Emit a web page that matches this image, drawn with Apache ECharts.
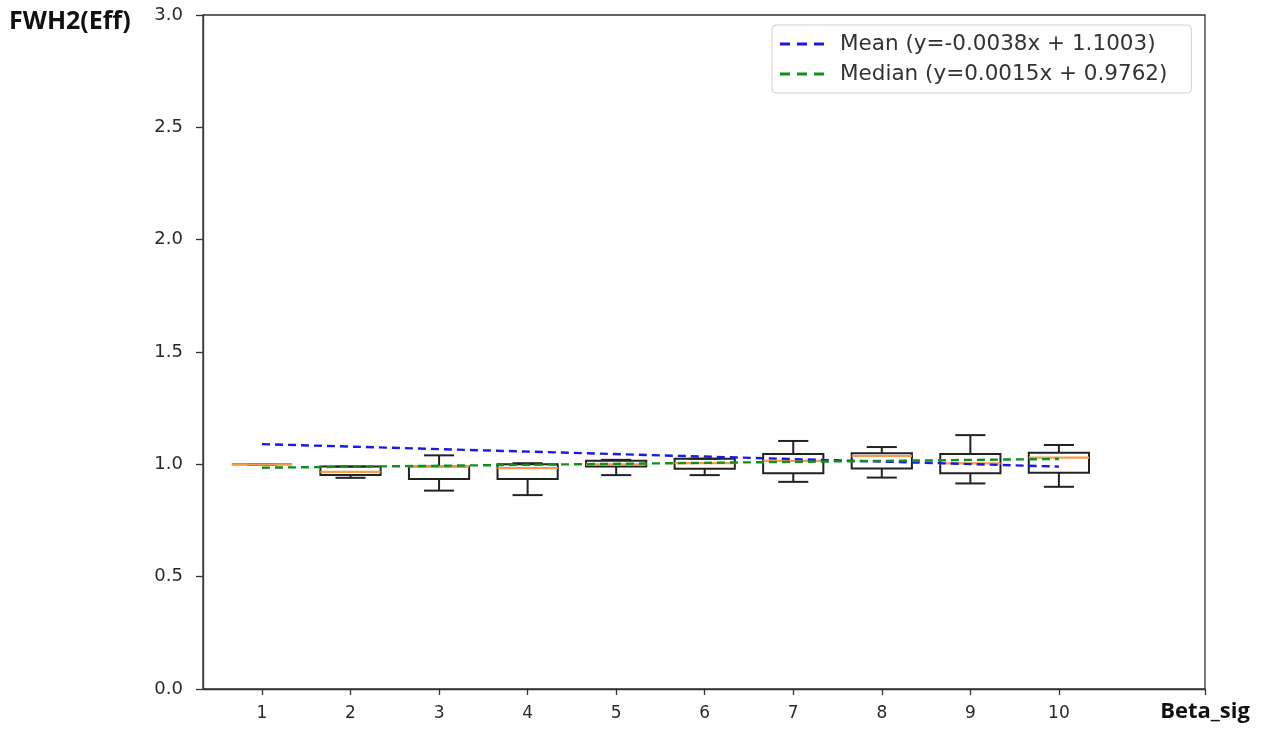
<!DOCTYPE html>
<html>
<head>
<meta charset="utf-8">
<script src="https://cdn.jsdelivr.net/npm/echarts@6/dist/echarts.min.js"></script>
<style>html,body{margin:0;padding:0;background:#fff;}#c{width:1264px;height:729px;}</style>
</head>
<body>
<div id="c"></div>
<script>
// categories (Beta_sig)
const categories = [1, 2, 3, 4, 5, 6, 7, 8, 9, 10];
// box statistics per category
const whiskerLow  = [1.000, 0.940, 0.883, 0.863, 0.952, 0.952, 0.922, 0.941, 0.915, 0.900];
const q1          = [1.000, 0.952, 0.935, 0.935, 0.990, 0.980, 0.960, 0.982, 0.960, 0.963];
const medians     = [1.000, 0.966, 0.990, 0.983, 1.000, 1.005, 1.015, 1.037, 1.004, 1.030];
const q3          = [1.000, 0.990, 0.990, 1.000, 1.016, 1.025, 1.046, 1.049, 1.046, 1.052];
const whiskerHigh = [1.000, 0.990, 1.040, 1.005, 1.020, 1.025, 1.104, 1.077, 1.130, 1.086];
// trend lines (as drawn, endpoints at x=1 and x=10)
const trendX      = [1, 10];
const meanTrend   = [1.090, 0.990];
const medianTrend = [0.985, 1.024];
const meanLabel   = 'Mean (y=-0.0038x + 1.1003)';
const medianLabel = 'Median (y=0.0015x + 0.9762)';
const yAxisTitle  = 'FWH2(Eff)';
const xAxisTitle  = 'Beta_sig';

const xMin = 0.334, xMax = 11.65;
const boxWidth = 0.68;

const boxData = categories.map((c, i) => [c, whiskerLow[i], q1[i], medians[i], q3[i], whiskerHigh[i]]);

const chart = echarts.init(document.getElementById('c'));
const axisColor = '#333';
const dashIcon = 'path://M0,0h10v3h-10z M17,0h10v3h-10z M34,0h10v3h-10z';

chart.setOption({
  animation: false,
  backgroundColor: '#fff',
  title: {
    text: yAxisTitle, left: 9, top: 8, padding: 0,
    textStyle: { fontWeight: 'bold', fontSize: 25, color: '#111', fontFamily: 'Open Sans', lineHeight: 28 }
  },
  grid: { left: 203, right: 59, top: 15, bottom: 40, containLabel: false, outerBoundsMode: 'none', show: true, borderColor: axisColor, borderWidth: 1.3, backgroundColor: 'transparent' },
  xAxis: {
    type: 'value', min: xMin, max: xMax,
    splitLine: { show: false },
    axisLine: { lineStyle: { color: axisColor, width: 1.3 } },
    axisTick: { show: true, length: 6, lineStyle: { color: axisColor, width: 1.3 }, customValues: categories.concat([xMax]) },
    axisLabel: { customValues: categories, color: '#2a2a2a', fontSize: 17, margin: 16, fontFamily: 'DejaVu Sans' },
    name: xAxisTitle, nameLocation: 'end', nameGap: 0,
    nameTextStyle: { fontWeight: 'bold', fontSize: 22, color: '#111', fontFamily: 'Open Sans', verticalAlign: 'top', align: 'center', padding: [12, 0, 0, 0] }
  },
  yAxis: {
    type: 'value', min: 0, max: 3, interval: 0.5,
    splitLine: { show: false },
    axisLine: { show: true, lineStyle: { color: axisColor, width: 1.3 } },
    axisTick: { show: true, length: 7, lineStyle: { color: axisColor, width: 1.3 } },
    axisLabel: { color: '#2a2a2a', fontSize: 18, margin: 20, fontFamily: 'DejaVu Sans', formatter: v => v.toFixed(1) }
  },
  legend: {
    orient: 'vertical', left: 772, top: 25,
    backgroundColor: '#fff', borderColor: '#d0d0d0', borderWidth: 1, borderRadius: 4,
    padding: [7, 24, 7, 8],
    itemWidth: 46, itemHeight: 3, itemGap: 6,
    textStyle: { fontSize: 21.5, color: '#333', fontFamily: 'DejaVu Sans', lineHeight: 24, padding: [0, 0, 0, 10] },
    data: [{ name: meanLabel, icon: dashIcon }, { name: medianLabel, icon: dashIcon }]
  },
  series: [
    {
      type: 'custom', name: 'box', z: 2,
      data: boxData,
      encode: { x: 0, y: [1, 2, 3, 4, 5] },
      renderItem: function (params, api) {
        const x = api.value(0);
        const pLow = api.coord([x, api.value(1)]);
        const pQ1 = api.coord([x, api.value(2)]);
        const pMed = api.coord([x, api.value(3)]);
        const pQ3 = api.coord([x, api.value(4)]);
        const pHigh = api.coord([x, api.value(5)]);
        const hw = api.size([boxWidth, 0])[0] / 2;
        const cw = hw / 2;
        const cx = pMed[0];
        const ls = { stroke: '#222', lineWidth: 2, fill: null };
        return {
          type: 'group',
          children: [
            { type: 'line', shape: { x1: cx, y1: pQ1[1], x2: cx, y2: pLow[1] }, style: ls },
            { type: 'line', shape: { x1: cx, y1: pQ3[1], x2: cx, y2: pHigh[1] }, style: ls },
            { type: 'line', shape: { x1: cx - cw, y1: pLow[1], x2: cx + cw, y2: pLow[1] }, style: ls },
            { type: 'line', shape: { x1: cx - cw, y1: pHigh[1], x2: cx + cw, y2: pHigh[1] }, style: ls },
            { type: 'rect', shape: { x: cx - hw, y: pQ3[1], width: hw * 2, height: pQ1[1] - pQ3[1] }, style: { stroke: '#222', lineWidth: 2, fill: 'transparent' } },
            { type: 'line', shape: { x1: cx - hw, y1: pMed[1], x2: cx + hw, y2: pMed[1] }, style: { stroke: '#f59d4e', lineWidth: 2.2 } }
          ]
        };
      }
    },
    {
      type: 'line', name: meanLabel, z: 5,
      data: trendX.map((x, i) => [x, meanTrend[i]]),
      symbol: 'none', color: '#1a1ae6',
      lineStyle: { color: '#1a1ae6', width: 2.4, type: [8, 5] }
    },
    {
      type: 'line', name: medianLabel, z: 5,
      data: trendX.map((x, i) => [x, medianTrend[i]]),
      symbol: 'none', color: '#12901a',
      lineStyle: { color: '#12901a', width: 2.4, type: [8, 5] }
    }
  ]
});
</script>
</body>
</html>
